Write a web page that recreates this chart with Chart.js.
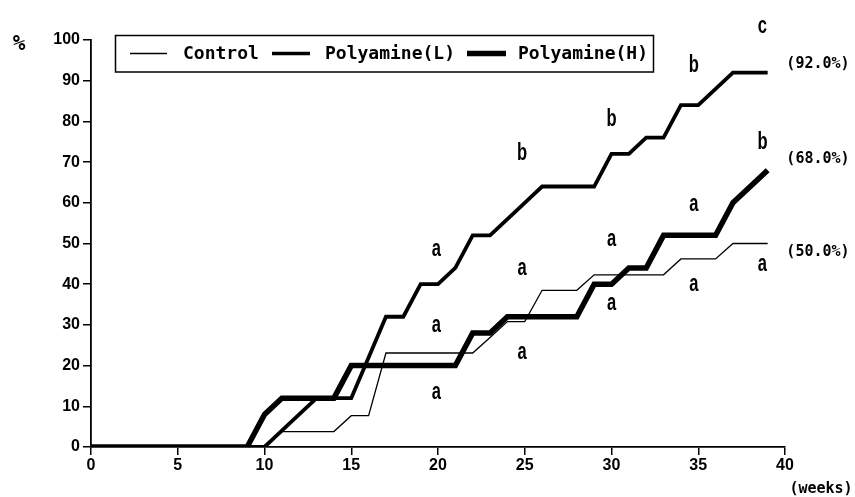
<!DOCTYPE html>
<html>
<head>
<meta charset="utf-8">
<script src="https://cdn.jsdelivr.net/npm/chart.js@4.4.1/dist/chart.umd.min.js"></script>
<style>
  html, body { margin: 0; padding: 0; background: #fff; }
  #wrap { width: 855px; height: 497px; position: relative; }
</style>
</head>
<body>
<div id="wrap"><canvas id="chart"></canvas></div>
<script>
// weeks 0..39, values in %
const weeks = [0,1,2,3,4,5,6,7,8,9,10,11,12,13,14,15,16,17,18,19,20,21,22,23,24,25,26,27,28,29,30,31,32,33,34,35,36,37,38,39];
const controlValues = [0,0,0,0,0,0,0,0,0,0,0,3.8,3.8,3.8,3.8,7.7,7.7,23.1,23.1,23.1,23.1,23.1,23.1,26.9,30.8,30.8,38.5,38.5,38.5,42.3,42.3,42.3,42.3,42.3,46.2,46.2,46.2,50,50,50];
const polyLValues = [0,0,0,0,0,0,0,0,0,0,0,4,8,12,12,12,22,32,32,40,40,44,52,52,56,60,64,64,64,64,72,72,76,76,84,84,88,92,92,92];
const polyHValues = [0,0,0,0,0,0,0,0,0,0,8,12,12,12,12,20,20,20,20,20,20,20,28,28,32,32,32,32,32,40,40,44,44,52,52,52,52,60,64,68];

const seriesNames = ['Control', 'Polyamine(L)', 'Polyamine(H)'];
const xTicks = [0, 5, 10, 15, 20, 25, 30, 35, 40];
const yTicks = [0, 10, 20, 30, 40, 50, 60, 70, 80, 90, 100];

// significance letters (week, value)
const letterTexts  = ['a','a','a', 'b','a','a', 'b','a','a', 'b','a','a', 'c','b','a'];
const letterWeeks  = [19.9,19.9,19.9, 24.85,24.85,24.85, 30,30,30, 34.75,34.75,34.75, 38.7,38.7,38.7];
const letterValues = [48.5,29.8,13.4, 72,43.7,23.2, 80.5,51,35.1, 93.7,59.5,40, 103.4,74.9,44.9];

// final rates at right
const endTexts  = ['(92.0%)', '(68.0%)', '(50.0%)'];
const endWeek   = 41.9;
const endValues = [94, 70.7, 48];

function toPoints(vals) {
    return weeks.map((w, i) => ({ x: w, y: vals[i] }));
}

const textPlugin = {
    id: 'textPlugin',
    afterDraw(chart) {
        const ctx = chart.ctx;
        const xs = chart.scales.x, ys = chart.scales.y;
        ctx.save();
        ctx.fillStyle = '#000';
        ctx.textAlign = 'center';
        ctx.textBaseline = 'middle';

        // letters
        ctx.font = 'bold 23px "Liberation Sans", Arial, sans-serif';
        letterTexts.forEach((t, i) => {
            ctx.save();
            ctx.translate(xs.getPixelForValue(letterWeeks[i]), ys.getPixelForValue(letterValues[i]));
            ctx.scale(0.72, 1);
            ctx.fillText(t, 0, 0);
            ctx.restore();
        });

        // end labels
        ctx.font = 'bold 15px "DejaVu Sans Mono", monospace';
        endTexts.forEach((t, i) => {
            ctx.fillText(t, xs.getPixelForValue(endWeek), ys.getPixelForValue(endValues[i]));
        });

        // axis titles
        ctx.font = 'bold 15px "DejaVu Sans Mono", monospace';
        ctx.fillText('(weeks)', 821, 489);
        ctx.font = 'bold 21px "DejaVu Sans Mono", monospace';
        ctx.fillText('%', 19, 45);

        // legend box
        ctx.strokeStyle = '#000';
        ctx.lineWidth = 1.5;
        ctx.strokeRect(115.5, 35.5, 538, 36.5);
        const legY = 53.5;
        const samples = [[130, 167, 1.3], [272, 310, 3.5], [467, 506, 5.5]];
        const textX = [183, 325, 518];
        ctx.font = 'bold 18px "DejaVu Sans Mono", monospace';
        ctx.textAlign = 'left';
        samples.forEach((s, i) => {
            ctx.lineWidth = s[2];
            ctx.beginPath();
            ctx.moveTo(s[0], legY);
            ctx.lineTo(s[1], legY);
            ctx.stroke();
            ctx.fillText(seriesNames[i], textX[i], legY + 1);
        });
        ctx.restore();
    }
};

const axisFont = { family: '"Liberation Sans", Arial, sans-serif', size: 16, weight: 'bold' };

new Chart(document.getElementById('chart'), {
    type: 'line',
    data: {
        datasets: [{
            label: seriesNames[0],
            data: toPoints(controlValues),
            borderColor: '#000',
            borderWidth: 1.3,
            pointRadius: 0,
            tension: 0
        }, {
            label: seriesNames[1],
            data: toPoints(polyLValues),
            borderColor: '#000',
            borderWidth: 3.8,
            pointRadius: 0,
            tension: 0
        }, {
            label: seriesNames[2],
            data: toPoints(polyHValues),
            borderColor: '#000',
            borderWidth: 5.5,
            pointRadius: 0,
            tension: 0
        }]
    },
    options: {
        responsive: true,
        maintainAspectRatio: false,
        animation: false,
        layout: { padding: { left: 0, right: 70, top: 40, bottom: 0 } },
        plugins: { legend: { display: false }, tooltip: { enabled: false } },
        scales: {
            x: {
                type: 'linear',
                min: 0, max: 40,
                afterFit: s => { s.height = 50; },
                afterBuildTicks: s => { s.ticks = xTicks.map(v => ({ value: v })); },
                ticks: { color: '#000', font: axisFont, padding: 1, maxRotation: 0 },
                grid: { drawOnChartArea: false, drawTicks: true, tickLength: 8, color: '#000', lineWidth: 1.5 },
                border: { color: '#000', width: 1.8 }
            },
            y: {
                min: 0, max: 100,
                afterFit: s => { s.width = 91; },
                afterBuildTicks: s => { s.ticks = yTicks.map(v => ({ value: v })); },
                ticks: { color: '#000', font: axisFont, padding: 3 },
                grid: { drawOnChartArea: false, drawTicks: true, tickLength: 8, color: '#000', lineWidth: 1.5 },
                border: { color: '#000', width: 1.8 }
            }
        }
    },
    plugins: [textPlugin]
});
</script>
</body>
</html>
